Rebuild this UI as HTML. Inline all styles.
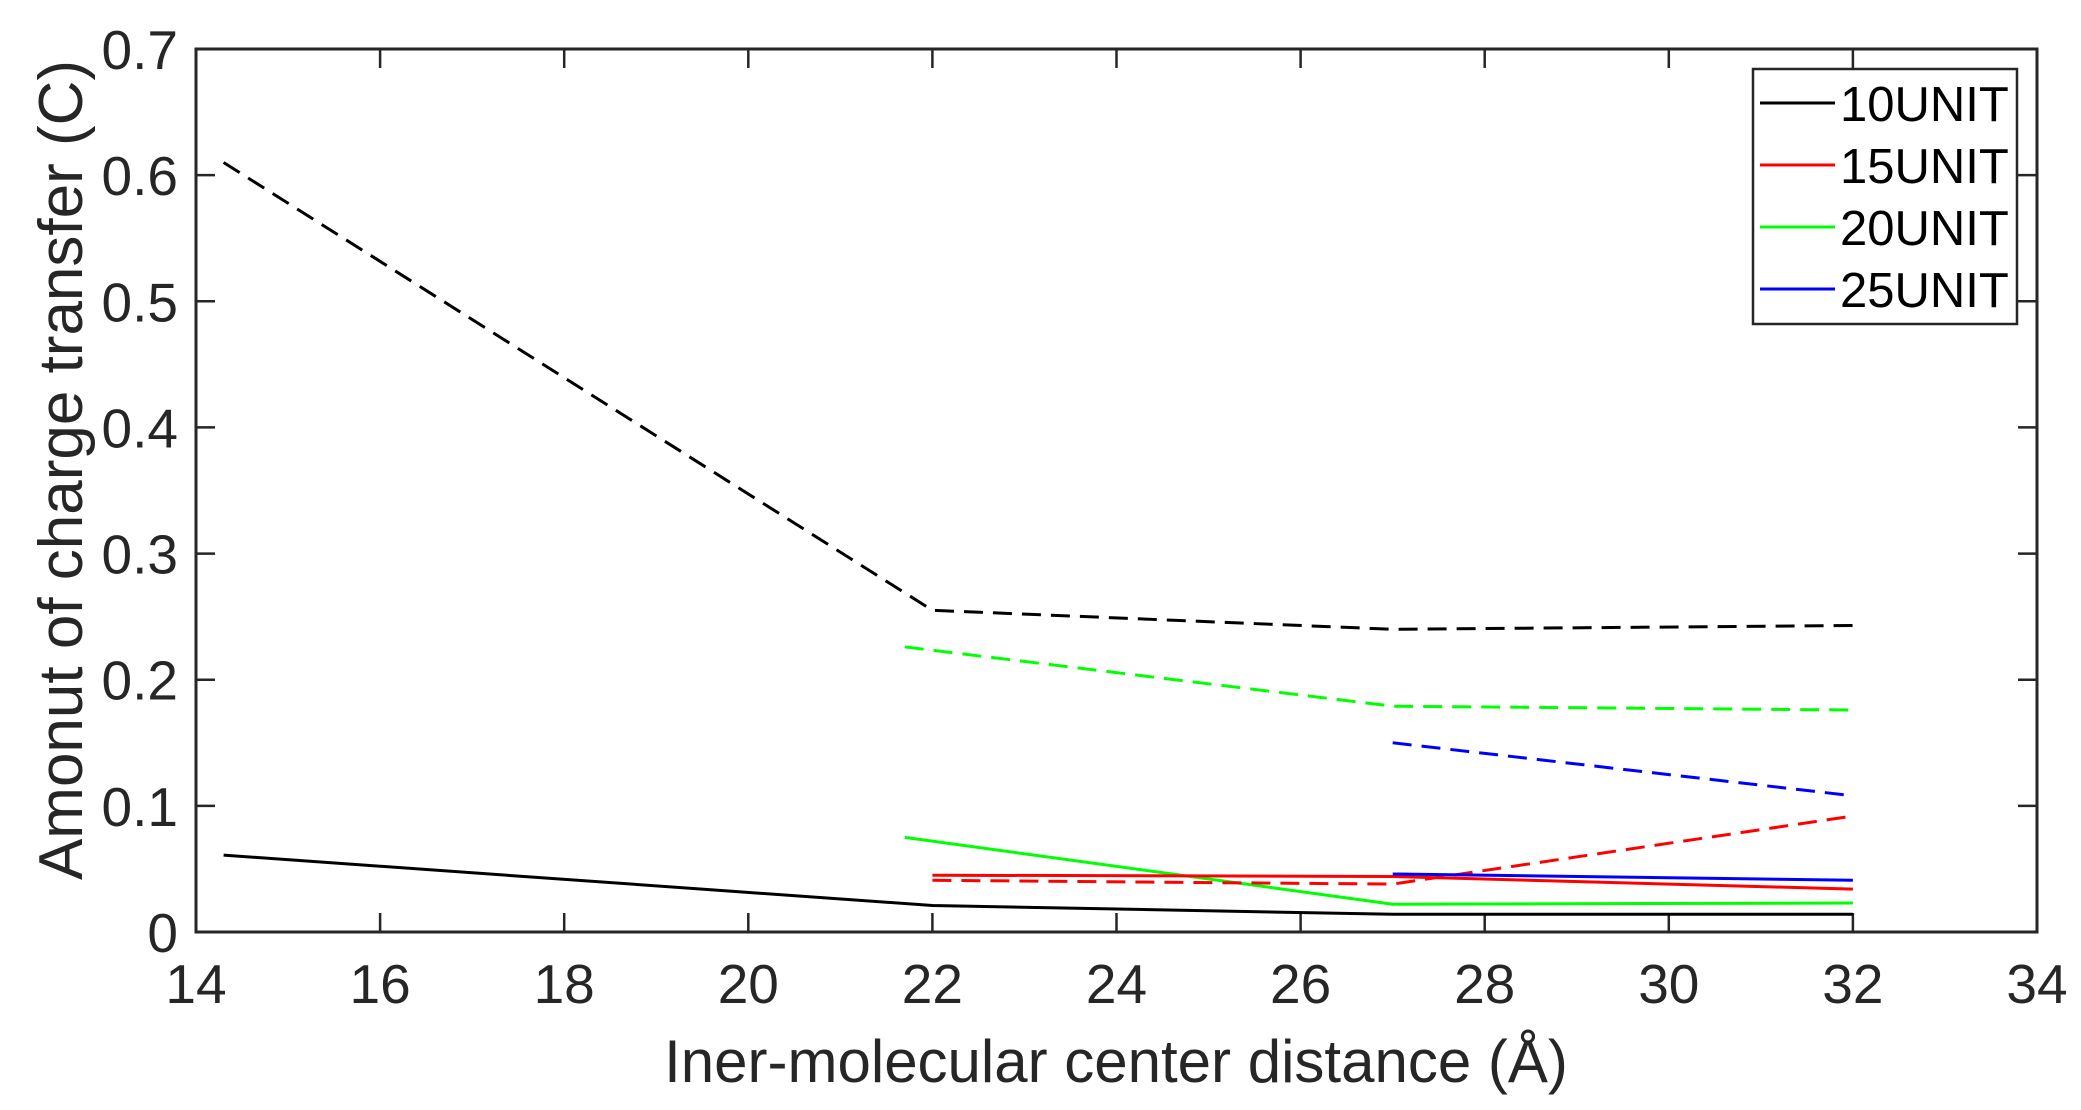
<!DOCTYPE html>
<html><head><meta charset="utf-8"><style>html,body{margin:0;padding:0;background:#fff}svg{display:block}</style></head>
<body>
<svg width="2081" height="1110" viewBox="0 0 2081 1110" xmlns="http://www.w3.org/2000/svg" font-family="Liberation Sans, sans-serif" fill="#262626">
<rect width="2081" height="1110" fill="#fff"/>
<g stroke="#262626" stroke-width="2.5">
<path d="M196,932v-19M380.1,932v-19M564.2,932v-19M748.3,932v-19M932.4,932v-19M1116.5,932v-19M1300.6,932v-19M1484.7,932v-19M1668.8,932v-19M1852.9,932v-19M2037,932v-19"/>
<path d="M196,49v19M380.1,49v19M564.2,49v19M748.3,49v19M932.4,49v19M1116.5,49v19M1300.6,49v19M1484.7,49v19M1668.8,49v19M1852.9,49v19M2037,49v19"/>
<path d="M196,932h19M196,805.9h19M196,679.7h19M196,553.6h19M196,427.4h19M196,301.3h19M196,175.1h19M196,49h19"/>
<path d="M2037,932h-19M2037,805.9h-19M2037,679.7h-19M2037,553.6h-19M2037,427.4h-19M2037,301.3h-19M2037,175.1h-19M2037,49h-19"/>
</g>
<g font-size="55" text-anchor="middle">
<text x="196" y="1003">14</text><text x="380.1" y="1003">16</text><text x="564.2" y="1003">18</text><text x="748.3" y="1003">20</text><text x="932.4" y="1003">22</text><text x="1116.5" y="1003">24</text><text x="1300.6" y="1003">26</text><text x="1484.7" y="1003">28</text><text x="1668.8" y="1003">30</text><text x="1852.9" y="1003">32</text><text x="2037" y="1003">34</text>
</g>
<g font-size="55" text-anchor="end">
<text x="178" y="952">0</text><text x="178" y="825.9">0.1</text><text x="178" y="699.7">0.2</text><text x="178" y="573.6">0.3</text><text x="178" y="447.4">0.4</text><text x="178" y="321.3">0.5</text><text x="178" y="195.1">0.6</text><text x="178" y="69">0.7</text>
</g>
<g fill="none" stroke-width="3">
<polyline points="223.6,162.5 932.4,610.3 1392.7,629.3 1852.9,625.5" stroke="#000" stroke-dasharray="19,10"/>
<polyline points="223.6,855.1 932.4,905.5 1392.7,914.3 1852.9,914.3" stroke="#000"/>
<polyline points="904.8,646.9 1392.7,706.2 1852.9,710" stroke="#00ff00" stroke-dasharray="19,10"/>
<polyline points="904.8,837.4 1392.7,904.2 1852.9,903" stroke="#00ff00"/>
<polyline points="932.4,875.2 1392.7,876.5 1852.9,889.1" stroke="#ff0000"/>
<polyline points="932.4,880.3 1392.7,884.1 1852.9,816" stroke="#ff0000" stroke-dasharray="19,10"/>
<polyline points="1392.7,742.8 1852.9,795.8" stroke="#0000ff" stroke-dasharray="19,10"/>
<polyline points="1392.7,874 1852.9,880.3" stroke="#0000ff"/>
</g>
<rect x="196" y="49" width="1841" height="883" fill="none" stroke="#262626" stroke-width="3"/>
<rect x="1753" y="69" width="264" height="255" fill="#fff" stroke="#262626" stroke-width="2.5"/>
<g stroke-width="3">
<line x1="1760" y1="103" x2="1835" y2="103" stroke="#000"/>
<line x1="1760" y1="165" x2="1835" y2="165" stroke="#ff0000"/>
<line x1="1760" y1="227" x2="1835" y2="227" stroke="#00ff00"/>
<line x1="1760" y1="289" x2="1835" y2="289" stroke="#0000ff"/>
</g>
<g font-size="49" fill="#000">
<text x="1840" y="121">10UNIT</text><text x="1840" y="183">15UNIT</text><text x="1840" y="245">20UNIT</text><text x="1840" y="307">25UNIT</text>
</g>
<text x="1116" y="1082" font-size="60" text-anchor="middle">Iner-molecular center distance (Å)</text>
<text transform="translate(82,470) rotate(-90)" font-size="62" text-anchor="middle">Amonut of charge transfer (C)</text>
</svg>
</body></html>
